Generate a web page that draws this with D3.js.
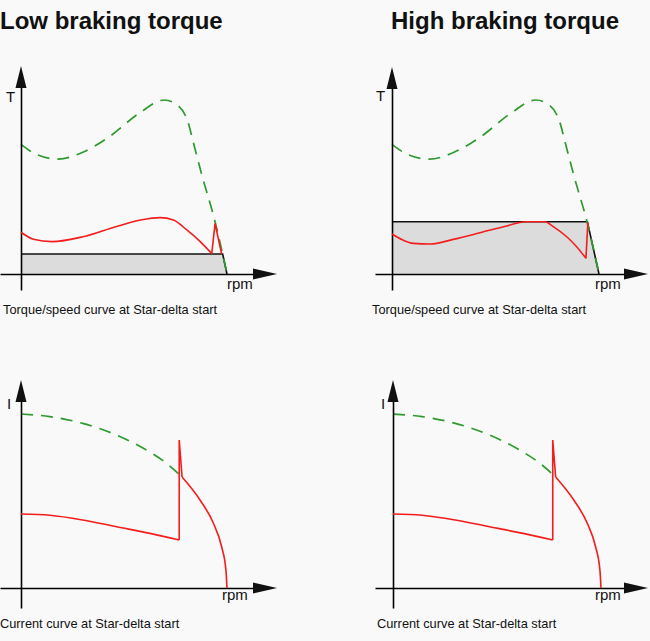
<!DOCTYPE html>
<html>
<head>
<meta charset="utf-8">
<script src="https://cdn.jsdelivr.net/npm/d3@7"></script>
<style>
  body { margin: 0; background: #f9f9f9; }
  svg { display: block; font-family: "Liberation Sans", Arial, Helvetica, sans-serif; }
</style>
</head>
<body>
<script>
// motor torque (green, dashed) - same in both upper panels
const torqueRpm   = [0, 7, 18, 30, 43, 57.5, 69.5, 76, 81, 84, 88, 94, 100];
const torqueMotor = [74.5, 69, 66, 70, 79, 92.5, 100, 97, 87.5, 74, 56, 31, 0];

// star-delta torque, low braking torque
const lowRpm      = [0, 6, 15, 30, 46, 58, 67.5, 74, 80.5, 87, 92.6];
const lowTorque   = [24, 20, 18.6, 21.4, 27.2, 31, 32.4, 31, 25.3, 18.6, 11.7];
const lowSpikeRpm = [92.6, 94.2, 97.4];
const lowSpike    = [11.7, 29, 11.5];
const lowLoadRpm  = [0, 0, 97.9, 100];
const lowLoad     = [0, 11.5, 11.5, 0];

// star-delta torque, high braking torque
const highRpm      = [0, 5.3, 10.3, 18.4, 29.6, 42.5, 55.4, 64.3, 73.9, 77.9, 84.4, 89.2, 93.7];
const highTorque   = [23, 19.5, 17.6, 17.2, 19.9, 23.7, 27.6, 30, 30, 27.2, 21.4, 15.7, 9];
const highSpikeRpm = [93.7, 94.6];
const highSpike    = [9, 29.5];
const highLoadRpm  = [0, 0, 94.4, 100];
const highLoad     = [0, 30, 30, 0];

// current curves (identical in both lower panels)
const directRpm     = [0, 14, 30, 46.4, 59.4, 70.7, 78.2];
const directCurrent = [100, 98.5, 94.6, 87.9, 80.3, 71.6, 63.8];
const starRpm       = [0, 14, 30, 46.4, 62.6, 76.8];
const starCurrent   = [42.5, 41.8, 39.1, 35.2, 31.4, 27.6];
const switchRpm     = [76.8, 76.8, 78.2];
const switchCurrent = [27.6, 85, 63.8];
const deltaRpm      = [78.2, 86.9, 93.4, 97.4, 99.5, 100];
const deltaCurrent  = [63.8, 50.6, 37.2, 23.7, 10, 0];

const titles = ["Low braking torque", "High braking torque"];
const torqueCaption = "Torque/speed curve at Star-delta start";
const currentCaption = "Current curve at Star-delta start";

const green = "#2f9a2f";
const red = "#f21d1d";

var svg = d3.select("body")
    .append("svg")
    .attr("width", 650)
    .attr("height", 641);

function drawAxes(g, p) {
    // x axis with arrow
    const xa = d3.scaleLinear().range([p.axisStart, p.xTip - 20]);
    g.append("g")
        .attr("transform", `translate(0, ${p.oy})`)
        .call(d3.axisBottom(xa).tickValues([]).tickSizeOuter(0))
        .select(".domain").attr("stroke-width", 1.6);
    g.append("path")
        .attr("d", `M${p.xTip},${p.oy} L${p.xTip - 24},${p.oy - 5.5} L${p.xTip - 24},${p.oy + 5.5} Z`)
        .attr("fill", "#111");

    // y axis with arrow
    const ya = d3.scaleLinear().range([p.yEnd, p.yTip + 20]);
    g.append("g")
        .attr("transform", `translate(${p.ox}, 0)`)
        .call(d3.axisLeft(ya).tickValues([]).tickSizeOuter(0))
        .select(".domain").attr("stroke-width", 1.6);
    g.append("path")
        .attr("d", `M${p.ox},${p.yTip} L${p.ox - 5.5},${p.yTip + 22} L${p.ox + 5.5},${p.yTip + 22} Z`)
        .attr("fill", "#111");

    g.append("text")
        .attr("x", p.letterX).attr("y", p.letterY)
        .attr("font-size", 15).attr("fill", "#111")
        .text(p.letter);
    g.append("text")
        .attr("x", p.rpmX).attr("y", p.rpmY)
        .attr("font-size", 15).attr("fill", "#111")
        .text("rpm");
    g.append("text")
        .attr("x", p.capX).attr("y", p.capY)
        .attr("font-size", 12.8).attr("fill", "#111")
        .text(p.caption);
}

function lineOf(x, y, curve) {
    return d3.line().x(d => x(d[0])).y(d => y(d[1])).curve(curve);
}

function torquePanel(p) {
    const g = svg.append("g");
    const x = d3.scaleLinear().domain([0, 100]).range([p.ox, p.ox + p.w]);
    const y = d3.scaleLinear().domain([0, 100]).range([p.oy, p.oy - 174]);

    // braking (load) torque area
    const load = d3.zip(p.loadRpm, p.load);
    g.append("path")
        .attr("d", lineOf(x, y, d3.curveLinear)(load) + "Z")
        .attr("fill", "#dcdcdc");
    g.append("path")
        .attr("d", lineOf(x, y, d3.curveLinear)(load.slice(1)))
        .attr("fill", "none").attr("stroke", "#111").attr("stroke-width", 1.6);

    g.append("path")
        .attr("d", lineOf(x, y, d3.curveMonotoneX)(d3.zip(torqueRpm, torqueMotor)))
        .attr("fill", "none").attr("stroke", green).attr("stroke-width", 1.7)
        .attr("stroke-dasharray", "12,8");

    drawAxes(g, p);

    g.append("path")
        .attr("d", lineOf(x, y, d3.curveMonotoneX)(d3.zip(p.redRpm, p.red)))
        .attr("fill", "none").attr("stroke", red).attr("stroke-width", 1.6);
    g.append("path")
        .attr("d", lineOf(x, y, d3.curveLinear)(d3.zip(p.spikeRpm, p.spike)))
        .attr("fill", "none").attr("stroke", red).attr("stroke-width", 1.6)
        .attr("stroke-linejoin", "miter");
}

function currentPanel(p) {
    const g = svg.append("g");
    const x = d3.scaleLinear().domain([0, 100]).range([p.ox, p.ox + p.w]);
    const y = d3.scaleLinear().domain([0, 100]).range([p.oy, p.oy - 174]);

    g.append("path")
        .attr("d", lineOf(x, y, d3.curveMonotoneX)(d3.zip(directRpm, directCurrent)))
        .attr("fill", "none").attr("stroke", green).attr("stroke-width", 1.7)
        .attr("stroke-dasharray", "12,8");

    drawAxes(g, p);

    g.append("path")
        .attr("d", lineOf(x, y, d3.curveMonotoneX)(d3.zip(starRpm, starCurrent)))
        .attr("fill", "none").attr("stroke", red).attr("stroke-width", 1.6);
    g.append("path")
        .attr("d", lineOf(x, y, d3.curveLinear)(d3.zip(switchRpm, switchCurrent)))
        .attr("fill", "none").attr("stroke", red).attr("stroke-width", 1.6);
    g.append("path")
        .attr("d", lineOf(x, y, d3.curveMonotoneX)(d3.zip(deltaRpm, deltaCurrent)))
        .attr("fill", "none").attr("stroke", red).attr("stroke-width", 1.6);
}

// titles
svg.selectAll(".title")
    .data(titles)
    .enter()
    .append("text")
    .attr("class", "title")
    .attr("x", (d, i) => i === 0 ? 0 : 391)
    .attr("y", 29)
    .attr("font-size", 24)
    .attr("font-weight", "bold")
    .attr("fill", "#111")
    .text(d => d);

torquePanel({ox: 21, w: 206, oy: 274, axisStart: 0, xTip: 277, yTip: 66, yEnd: 290,
    letter: "T", letterX: 6, letterY: 102, rpmX: 227, rpmY: 289, capX: 3, capY: 314,
    caption: torqueCaption,
    loadRpm: lowLoadRpm, load: lowLoad, redRpm: lowRpm, red: lowTorque,
    spikeRpm: lowSpikeRpm, spike: lowSpike});

torquePanel({ox: 392, w: 207, oy: 274, axisStart: 375, xTip: 648, yTip: 67, yEnd: 290,
    letter: "T", letterX: 376, letterY: 101, rpmX: 595, rpmY: 289, capX: 372, capY: 314,
    caption: torqueCaption,
    loadRpm: highLoadRpm, load: highLoad, redRpm: highRpm, red: highTorque,
    spikeRpm: highSpikeRpm, spike: highSpike});

currentPanel({ox: 21, w: 206, oy: 588, axisStart: 0, xTip: 277, yTip: 380, yEnd: 608,
    letter: "I", letterX: 7, letterY: 409, rpmX: 222, rpmY: 600, capX: 0, capY: 628,
    caption: currentCaption});

currentPanel({ox: 393, w: 208, oy: 588, axisStart: 375, xTip: 648, yTip: 380, yEnd: 608,
    letter: "I", letterX: 381, letterY: 409, rpmX: 595, rpmY: 600, capX: 377, capY: 628,
    caption: currentCaption});
</script>
</body>
</html>
